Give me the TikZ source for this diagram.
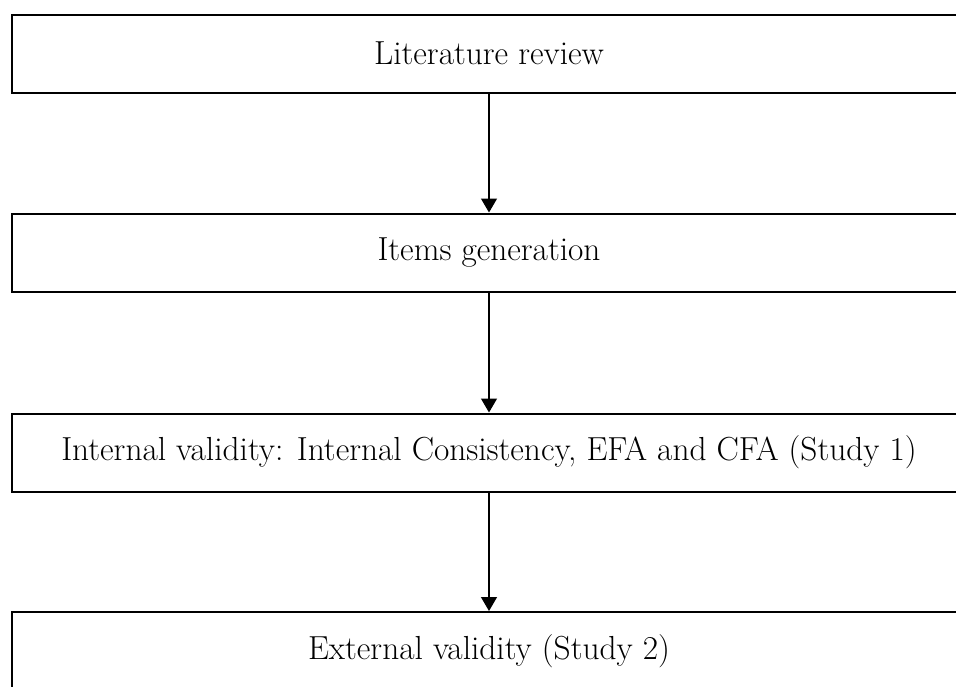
\documentclass[tikz,border=0pt]{standalone}
\usetikzlibrary{arrows.meta}
\tikzset{
  px/.style={x=0.75pt,y=-0.75pt},
  stagebox/.style={draw=black,line width=1.5pt,minimum width=715.5pt,minimum height=58.5pt,inner sep=0pt,
    font=\fontsize{25pt}{29pt}\selectfont},
  flowarrow/.style={line width=1pt,-{Triangle[length=10.5pt,width=12pt]}}
}
\begin{document}
\begin{tikzpicture}[px]
\useasboundingbox (0,0) rectangle (956,686);
\clip (0,0) rectangle (956,686);
\fill[white] (0,0) rectangle (956,686);
\node[stagebox] (lit) at (489,53.5) {Literature review};
\node[stagebox] (items) at (489,252.5) {Items generation};
\node[stagebox] (internal) at (489,452.5) {Internal validity: Internal Consistency, EFA and CFA (Study~1)};
\node[stagebox] (external) at (489,651) {External validity (Study~2)};
\draw[flowarrow] (lit) -- (items);
\draw[flowarrow] (items) -- (internal);
\draw[flowarrow] (internal) -- (external);
\end{tikzpicture}
\end{document}
